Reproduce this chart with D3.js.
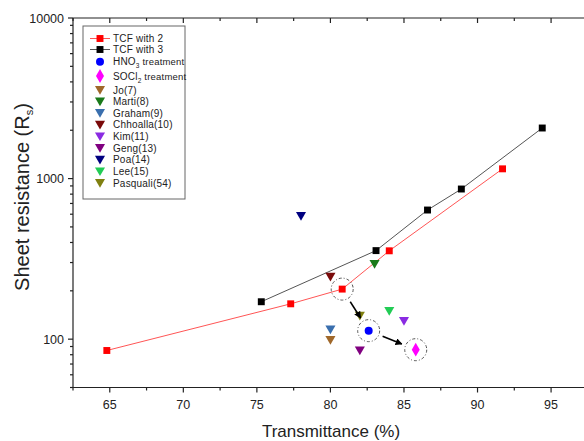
<!DOCTYPE html>
<html>
<head>
<meta charset="utf-8">
<script src="https://cdn.jsdelivr.net/npm/d3@7"></script>
<style>
  body { margin: 0; background: #fff; }
  svg { display: block; font-family: "Liberation Sans", Arial, sans-serif; }
</style>
</head>
<body>
<svg id="chart" width="584" height="441"></svg>
<script>
// data
const tcf2 = [[64.8, 85], [77.3, 166], [80.8, 205], [84.0, 355], [91.7, 1150]];
const tcf3 = [[75.3, 171], [83.1, 356], [86.6, 637], [88.9, 861], [94.4, 2065]];
const hno3 = [82.6, 113];
const socl2 = [85.8, 86];
const refNames = ["Jo(7)", "Marti(8)", "Graham(9)", "Chhoalla(10)", "Kim(11)", "Geng(13)", "Poa(14)", "Lee(15)", "Pasquali(54)"];
const refColors = ["#a0682a", "#1a7a1a", "#3a6fae", "#7a0a0a", "#8a2be2", "#800080", "#000080", "#22cc55", "#808010"];
const refX = [80.0, 83.0, 80.0, 80.0, 85.0, 82.0, 78.0, 84.0, 82.0];
const refY = [99, 294, 115, 245, 130, 85, 586, 150, 140];
const xTicks = [65, 70, 75, 80, 85, 90, 95];
const yTicks = [100, 1000, 10000];

const svg = d3.select("#chart");
const plotLeft = 73, plotTop = 18, plotBottom = 387.5;

const x = d3.scaleLinear().domain([62.5, 102.5]).range([plotLeft, plotLeft + 40 * 14.71]);
const y = d3.scaleLog().domain([50, 10000]).range([plotBottom, plotTop]);

// minor ticks
const xMinor = d3.range(62.5, 102.6, 2.5);
const yMinor = [];
[10, 100, 1000].forEach(d => { for (let k = 2; k <= 9; k++) if (d * k >= 50 && d * k < 10000) yMinor.push(d * k); });

const axisG = svg.append("g").attr("stroke", "#222").attr("stroke-width", 1.2);
// axis lines
axisG.append("line").attr("x1", plotLeft).attr("x2", 584).attr("y1", plotBottom).attr("y2", plotBottom);
axisG.append("line").attr("x1", plotLeft).attr("x2", 584).attr("y1", plotTop).attr("y2", plotTop);
axisG.append("line").attr("x1", plotLeft).attr("x2", plotLeft).attr("y1", plotTop).attr("y2", plotBottom);

// bottom ticks (outward)
axisG.selectAll(".xb").data(xMinor).join("line")
  .attr("x1", d => x(d)).attr("x2", d => x(d))
  .attr("y1", plotBottom).attr("y2", d => plotBottom + (d % 5 === 0 ? 5 : 3));
// top ticks (inward)
axisG.selectAll(".xt").data(xMinor).join("line")
  .attr("x1", d => x(d)).attr("x2", d => x(d))
  .attr("y1", plotTop).attr("y2", d => plotTop + (d % 5 === 0 ? 5 : 3));
// y ticks (outward)
axisG.selectAll(".yM").data(yTicks).join("line")
  .attr("x1", plotLeft - 5).attr("x2", plotLeft).attr("y1", d => y(d)).attr("y2", d => y(d));
axisG.selectAll(".ym").data(yMinor).join("line")
  .attr("x1", plotLeft - 3).attr("x2", plotLeft).attr("y1", d => y(d)).attr("y2", d => y(d));

// tick labels
svg.selectAll(".xl").data(xTicks).join("text")
  .attr("x", d => x(d)).attr("y", plotBottom + 21)
  .attr("text-anchor", "middle").attr("font-size", 12.5).attr("fill", "#222")
  .text(d => d);
svg.selectAll(".yl").data(yTicks).join("text")
  .attr("x", plotLeft - 9).attr("y", d => y(d) + 4.5)
  .attr("text-anchor", "end").attr("font-size", 12.5).attr("fill", "#222")
  .text(d => d);

// axis titles
svg.append("text").attr("x", 331).attr("y", 437)
  .attr("text-anchor", "middle").attr("font-size", 17).attr("fill", "#222")
  .text("Transmittance (%)");
const yt = svg.append("text")
  .attr("transform", "translate(29,197) rotate(-90)")
  .attr("text-anchor", "middle").attr("font-size", 20).attr("fill", "#222");
yt.append("tspan").text("Sheet resistance (R");
yt.append("tspan").attr("font-size", 11).attr("dy", 4).text("s");
yt.append("tspan").attr("dy", -4).text(")");

// lines
const line = d3.line().x(d => x(d[0])).y(d => y(d[1]));
svg.append("path").datum(tcf3).attr("d", line).attr("fill", "none").attr("stroke", "#555").attr("stroke-width", 1);
svg.append("path").datum(tcf2).attr("d", line).attr("fill", "none").attr("stroke", "#f55").attr("stroke-width", 1);

const sq = d3.symbol().type(d3.symbolSquare).size(48);
const tri = d3.symbol().type(d3.symbolTriangle).size(44);
const dia = d3.symbol().type(d3.symbolDiamond).size(55);

svg.selectAll(".s3").data(tcf3).join("path").attr("d", sq)
  .attr("transform", d => `translate(${x(d[0])},${y(d[1])})`).attr("fill", "#000");
svg.selectAll(".s2").data(tcf2).join("path").attr("d", sq)
  .attr("transform", d => `translate(${x(d[0])},${y(d[1])})`).attr("fill", "#f00");

// reference triangles (pointing down)
svg.selectAll(".ref").data(refNames).join("path").attr("d", tri)
  .attr("transform", (d, i) => `translate(${x(refX[i])},${y(refY[i]) - 1}) rotate(180)`)
  .attr("fill", (d, i) => refColors[i]);

svg.append("circle").attr("cx", x(hno3[0])).attr("cy", y(hno3[1])).attr("r", 4).attr("fill", "#00f");
svg.append("path").attr("d", dia)
  .attr("transform", `translate(${x(socl2[0])},${y(socl2[1])})`).attr("fill", "#f0f");

// highlight circles
const hl = [tcf2[2], hno3, socl2];
svg.selectAll(".hl").data(hl).join("circle")
  .attr("cx", d => x(d[0])).attr("cy", d => y(d[1])).attr("r", 11)
  .attr("fill", "none").attr("stroke", "#555").attr("stroke-width", 1)
  .attr("stroke-dasharray", "3,2,1,2");

// arrows
svg.append("defs").append("marker").attr("id", "ah")
  .attr("viewBox", "0 0 10 10").attr("refX", 9).attr("refY", 5)
  .attr("markerWidth", 7).attr("markerHeight", 7).attr("orient", "auto")
  .attr("markerUnits", "userSpaceOnUse")
  .append("path").attr("d", "M0,0 L10,5 L0,10 z").attr("fill", "#000");
const arrows = [[tcf2[2], hno3], [hno3, socl2]];
svg.selectAll(".ar").data(arrows).join("line")
  .each(function (d) {
    const x1 = x(d[0][0]), y1 = y(d[0][1]), x2 = x(d[1][0]), y2 = y(d[1][1]);
    const len = Math.hypot(x2 - x1, y2 - y1);
    const ux = (x2 - x1) / len, uy = (y2 - y1) / len;
    d3.select(this)
      .attr("x1", x1 + ux * 15).attr("y1", y1 + uy * 15)
      .attr("x2", x2 - ux * 15).attr("y2", y2 - uy * 15);
  })
  .attr("stroke", "#000").attr("stroke-width", 1.5).attr("marker-end", "url(#ah)");

// legend
const lg = svg.append("g");
lg.append("rect").attr("x", 83).attr("y", 26).attr("width", 102).attr("height", 173)
  .attr("fill", "#fff").attr("stroke", "#666").attr("stroke-width", 1);
const items = [
  { name: "TCF with 2", kind: "line", color: "#f00", lc: "#f55" },
  { name: "TCF with 3", kind: "line", color: "#000", lc: "#555" },
  { name: "HNO", sub: "3", rest: " treatment", kind: "circle", color: "#00f" },
  { name: "SOCl", sub: "2", rest: " treatment", kind: "diamond", color: "#f0f" }
].concat(refNames.map((n, i) => ({ name: n, kind: "tri", color: refColors[i] })));
const rowY = [38.5, 49.5, 61.7, 76, 90, 101.5, 113, 124.7, 136.3, 148, 159.6, 171.3, 183];
items.forEach((it, i) => {
  const g = lg.append("g").attr("transform", `translate(100,${rowY[i]})`);
  if (it.kind === "line") {
    g.append("line").attr("x1", -10).attr("x2", 10).attr("stroke", it.lc).attr("stroke-width", 1);
    g.append("path").attr("d", sq).attr("fill", it.color);
  } else if (it.kind === "circle") {
    g.append("circle").attr("r", 4).attr("fill", it.color);
  } else if (it.kind === "diamond") {
    g.append("path").attr("d", dia).attr("fill", it.color);
  } else {
    g.append("path").attr("d", tri).attr("transform", "translate(0,-1) rotate(180)").attr("fill", it.color);
  }
  const t = g.append("text").attr("x", 13).attr("y", 3.5).attr("font-size", 10).attr("fill", "#222")
    .attr("letter-spacing", 0.2).text(it.name);
  if (it.sub) {
    t.append("tspan").attr("font-size", 6.5).attr("dy", 3).text(it.sub);
    t.append("tspan").attr("dy", -3).attr("font-size", 9.5).text(it.rest);
  }
});
</script>
</body>
</html>
